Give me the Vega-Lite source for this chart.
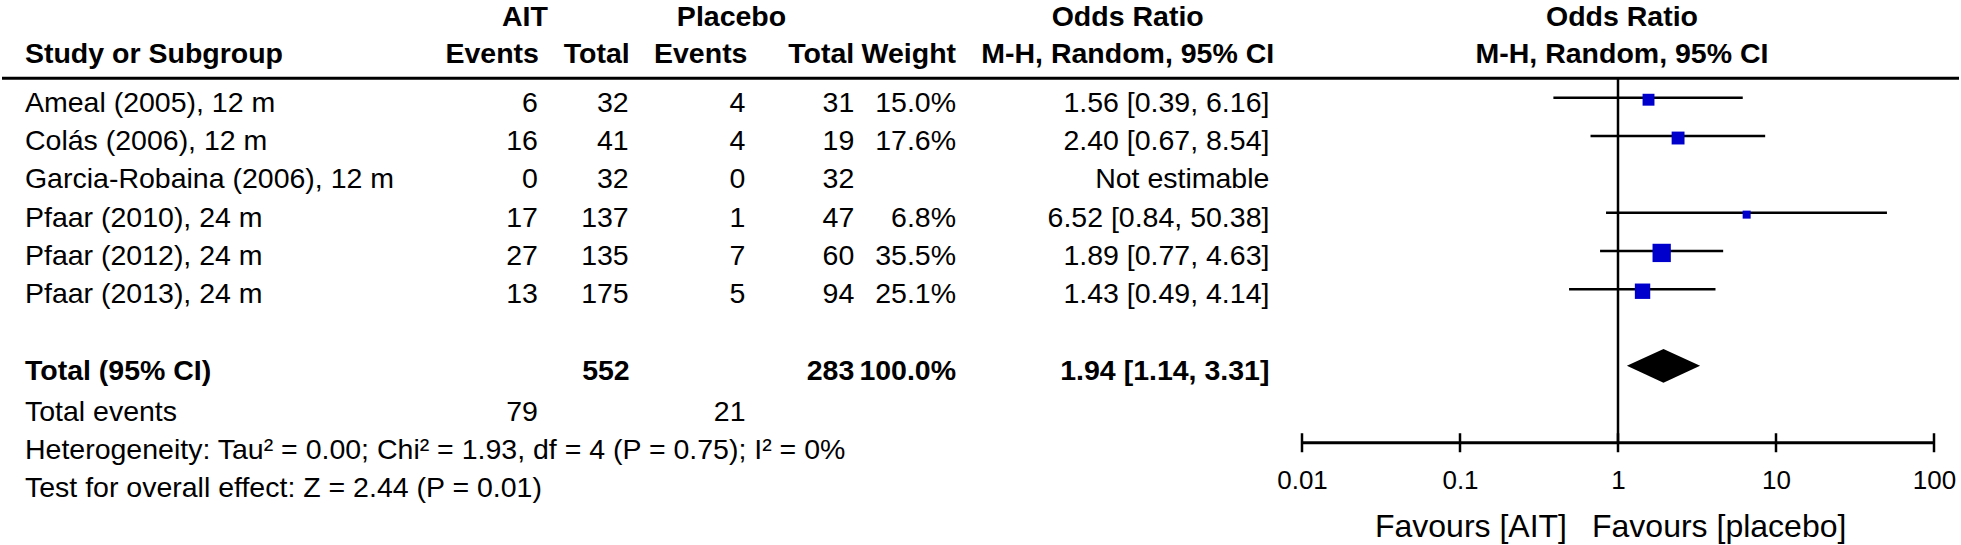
{
"$schema":"https://vega.github.io/schema/vega-lite/v6.json",
"width":1961,"height":545,
"autosize":{"type":"fit","contains":"padding"},
"padding":0,
"background":"white",
"config":{"view":{"stroke":null},"font":"Liberation Sans","text":{"fontSize":28.5,"baseline":"middle","color":"black"}},
"datasets":{
"studies":[
{"study":"Ameal (2005), 12 m","row":1,"ait_events":6,"ait_total":32,"pl_events":4,"pl_total":31,"weight":0.150,"or":1.56,"lo":0.39,"hi":6.16,"ci":"1.56 [0.39, 6.16]"},
{"study":"Colás (2006), 12 m","row":2,"ait_events":16,"ait_total":41,"pl_events":4,"pl_total":19,"weight":0.176,"or":2.40,"lo":0.67,"hi":8.54,"ci":"2.40 [0.67, 8.54]"},
{"study":"Garcia-Robaina (2006), 12 m","row":3,"ait_events":0,"ait_total":32,"pl_events":0,"pl_total":32,"weight":null,"or":null,"lo":null,"hi":null,"ci":"Not estimable"},
{"study":"Pfaar (2010), 24 m","row":4,"ait_events":17,"ait_total":137,"pl_events":1,"pl_total":47,"weight":0.068,"or":6.52,"lo":0.84,"hi":50.38,"ci":"6.52 [0.84, 50.38]"},
{"study":"Pfaar (2012), 24 m","row":5,"ait_events":27,"ait_total":135,"pl_events":7,"pl_total":60,"weight":0.355,"or":1.89,"lo":0.77,"hi":4.63,"ci":"1.89 [0.77, 4.63]"},
{"study":"Pfaar (2013), 24 m","row":6,"ait_events":13,"ait_total":175,"pl_events":5,"pl_total":94,"weight":0.251,"or":1.43,"lo":0.49,"hi":4.14,"ci":"1.43 [0.49, 4.14]"}
],
"headers":[
{"text":"AIT","row":-1.24,"col":"ait"},
{"text":"Placebo","row":-1.24,"col":"placebo"},
{"text":"Odds Ratio","row":-1.24,"col":"or_head"},
{"text":"Odds Ratio","row":-1.24,"col":"or_plot"},
{"text":"Study or Subgroup","row":-0.28,"col":"study"},
{"text":"Events","row":-0.28,"col":"ait_events"},
{"text":"Total","row":-0.28,"col":"ait_total"},
{"text":"Events","row":-0.28,"col":"pl_events"},
{"text":"Total","row":-0.28,"col":"pl_total"},
{"text":"Weight","row":-0.28,"col":"weight"},
{"text":"M-H, Random, 95% CI","row":-0.28,"col":"or_head"},
{"text":"M-H, Random, 95% CI","row":-0.28,"col":"or_plot"},
{"text":"Total (95% CI)","row":8,"col":"study"},
{"text":"552","row":8,"col":"ait_total"},
{"text":"283","row":8,"col":"pl_total"},
{"text":"100.0%","row":8,"col":"weight"},
{"text":"1.94 [1.14, 3.31]","row":8,"col":"or_value"}
],
"footer":[
{"text":"Total events","row":9.08,"col":"study"},
{"text":"79","row":9.08,"col":"ait_events"},
{"text":"21","row":9.08,"col":"pl_events"},
{"text":"Heterogeneity: Tau² = 0.00; Chi² = 1.93, df = 4 (P = 0.75); I² = 0%","row":10.08,"col":"study"},
{"text":"Test for overall effect: Z = 2.44 (P = 0.01)","row":11.05,"col":"study"}
],
"pooled":[{"or":1.94,"lo":1.14,"hi":3.31,"row":8}],
"ticks":[{"value":0.01},{"value":0.1},{"value":1},{"value":10},{"value":100}],
"favours":[{"text":"Favours [AIT]","side":"AIT"},{"text":"Favours [placebo]","side":"placebo"}]
},
"resolve":{"scale":{"x":"independent"}},
"layer":[
{"layer":[
{"data":{"values":[{}]},"mark":{"type":"rule","strokeWidth":3,"color":"black"},
 "encoding":{"y":{"datum":0.415,"type":"quantitative","scale":{"domain":[-1.63,12.6],"reverse":true,"nice":false,"zero":false},"axis":null}}},
{"data":{"name":"studies"},"mark":{"type":"text","align":"left","dy":2},
 "encoding":{"x":{"datum":23,"type":"quantitative","scale":{"domain":[0,1961],"nice":false,"zero":false},"axis":null},
 "y":{"field":"row","type":"quantitative","scale":{"domain":[-1.63,12.6],"reverse":true,"nice":false,"zero":false},"axis":null},
 "text":{"field":"study"}}},
{"data":{"name":"studies"},"mark":{"type":"text","align":"right","dy":2},
 "encoding":{"x":{"datum":537,"type":"quantitative","scale":{"domain":[0,1961],"nice":false,"zero":false},"axis":null},
 "y":{"field":"row","type":"quantitative","scale":{"domain":[-1.63,12.6],"reverse":true,"nice":false,"zero":false},"axis":null},
 "text":{"field":"ait_events"}}},
{"data":{"name":"studies"},"mark":{"type":"text","align":"right","dy":2},
 "encoding":{"x":{"datum":628,"type":"quantitative","scale":{"domain":[0,1961],"nice":false,"zero":false},"axis":null},
 "y":{"field":"row","type":"quantitative","scale":{"domain":[-1.63,12.6],"reverse":true,"nice":false,"zero":false},"axis":null},
 "text":{"field":"ait_total"}}},
{"data":{"name":"studies"},"mark":{"type":"text","align":"right","dy":2},
 "encoding":{"x":{"datum":745,"type":"quantitative","scale":{"domain":[0,1961],"nice":false,"zero":false},"axis":null},
 "y":{"field":"row","type":"quantitative","scale":{"domain":[-1.63,12.6],"reverse":true,"nice":false,"zero":false},"axis":null},
 "text":{"field":"pl_events"}}},
{"data":{"name":"studies"},"mark":{"type":"text","align":"right","dy":2},
 "encoding":{"x":{"datum":854,"type":"quantitative","scale":{"domain":[0,1961],"nice":false,"zero":false},"axis":null},
 "y":{"field":"row","type":"quantitative","scale":{"domain":[-1.63,12.6],"reverse":true,"nice":false,"zero":false},"axis":null},
 "text":{"field":"pl_total"}}},
{"data":{"name":"studies"},"transform":[{"filter":"isValid(datum.weight)"}],"mark":{"type":"text","align":"right","dy":2},
 "encoding":{"x":{"datum":956,"type":"quantitative","scale":{"domain":[0,1961],"nice":false,"zero":false},"axis":null},
 "y":{"field":"row","type":"quantitative","scale":{"domain":[-1.63,12.6],"reverse":true,"nice":false,"zero":false},"axis":null},
 "text":{"field":"weight","type":"quantitative","format":".1%"}}},
{"data":{"name":"studies"},"mark":{"type":"text","align":"right","dy":2},
 "encoding":{"x":{"datum":1270,"type":"quantitative","scale":{"domain":[0,1961],"nice":false,"zero":false},"axis":null},
 "y":{"field":"row","type":"quantitative","scale":{"domain":[-1.63,12.6],"reverse":true,"nice":false,"zero":false},"axis":null},
 "text":{"field":"ci"}}},
{"data":{"name":"footer"},"transform":[{"filter":"datum.col === 'study'"}],"mark":{"type":"text","align":"left","dy":2},
 "encoding":{"x":{"datum":23,"type":"quantitative","scale":{"domain":[0,1961],"nice":false,"zero":false},"axis":null},
 "y":{"field":"row","type":"quantitative","scale":{"domain":[-1.63,12.6],"reverse":true,"nice":false,"zero":false},"axis":null},
 "text":{"field":"text"}}},
{"data":{"name":"footer"},"transform":[{"filter":"datum.col === 'ait_events'"}],"mark":{"type":"text","align":"right","dy":2},
 "encoding":{"x":{"datum":537,"type":"quantitative","scale":{"domain":[0,1961],"nice":false,"zero":false},"axis":null},
 "y":{"field":"row","type":"quantitative","scale":{"domain":[-1.63,12.6],"reverse":true,"nice":false,"zero":false},"axis":null},
 "text":{"field":"text"}}},
{"data":{"name":"footer"},"transform":[{"filter":"datum.col === 'pl_events'"}],"mark":{"type":"text","align":"right","dy":2},
 "encoding":{"x":{"datum":745,"type":"quantitative","scale":{"domain":[0,1961],"nice":false,"zero":false},"axis":null},
 "y":{"field":"row","type":"quantitative","scale":{"domain":[-1.63,12.6],"reverse":true,"nice":false,"zero":false},"axis":null},
 "text":{"field":"text"}}},
{"data":{"name":"headers"},"transform":[{"filter":"datum.col === 'study'"}],"mark":{"type":"text","align":"left","fontWeight":"bold","dy":2},
 "encoding":{"x":{"datum":23,"type":"quantitative","scale":{"domain":[0,1961],"nice":false,"zero":false},"axis":null},
 "y":{"field":"row","type":"quantitative","scale":{"domain":[-1.63,12.6],"reverse":true,"nice":false,"zero":false},"axis":null},
 "text":{"field":"text"}}},
{"data":{"name":"headers"},"transform":[{"filter":"datum.col === 'ait'"}],"mark":{"type":"text","align":"center","fontWeight":"bold","dy":2},
 "encoding":{"x":{"datum":524,"type":"quantitative","scale":{"domain":[0,1961],"nice":false,"zero":false},"axis":null},
 "y":{"field":"row","type":"quantitative","scale":{"domain":[-1.63,12.6],"reverse":true,"nice":false,"zero":false},"axis":null},
 "text":{"field":"text"}}},
{"data":{"name":"headers"},"transform":[{"filter":"datum.col === 'placebo'"}],"mark":{"type":"text","align":"center","fontWeight":"bold","dy":2},
 "encoding":{"x":{"datum":731,"type":"quantitative","scale":{"domain":[0,1961],"nice":false,"zero":false},"axis":null},
 "y":{"field":"row","type":"quantitative","scale":{"domain":[-1.63,12.6],"reverse":true,"nice":false,"zero":false},"axis":null},
 "text":{"field":"text"}}},
{"data":{"name":"headers"},"transform":[{"filter":"datum.col === 'or_head'"}],"mark":{"type":"text","align":"center","fontWeight":"bold","dy":2},
 "encoding":{"x":{"datum":1128,"type":"quantitative","scale":{"domain":[0,1961],"nice":false,"zero":false},"axis":null},
 "y":{"field":"row","type":"quantitative","scale":{"domain":[-1.63,12.6],"reverse":true,"nice":false,"zero":false},"axis":null},
 "text":{"field":"text"}}},
{"data":{"name":"headers"},"transform":[{"filter":"datum.col === 'ait_events'"}],"mark":{"type":"text","align":"right","fontWeight":"bold","dy":2},
 "encoding":{"x":{"datum":538,"type":"quantitative","scale":{"domain":[0,1961],"nice":false,"zero":false},"axis":null},
 "y":{"field":"row","type":"quantitative","scale":{"domain":[-1.63,12.6],"reverse":true,"nice":false,"zero":false},"axis":null},
 "text":{"field":"text"}}},
{"data":{"name":"headers"},"transform":[{"filter":"datum.col === 'ait_total'"}],"mark":{"type":"text","align":"right","fontWeight":"bold","dy":2},
 "encoding":{"x":{"datum":629,"type":"quantitative","scale":{"domain":[0,1961],"nice":false,"zero":false},"axis":null},
 "y":{"field":"row","type":"quantitative","scale":{"domain":[-1.63,12.6],"reverse":true,"nice":false,"zero":false},"axis":null},
 "text":{"field":"text"}}},
{"data":{"name":"headers"},"transform":[{"filter":"datum.col === 'pl_events'"}],"mark":{"type":"text","align":"right","fontWeight":"bold","dy":2},
 "encoding":{"x":{"datum":747,"type":"quantitative","scale":{"domain":[0,1961],"nice":false,"zero":false},"axis":null},
 "y":{"field":"row","type":"quantitative","scale":{"domain":[-1.63,12.6],"reverse":true,"nice":false,"zero":false},"axis":null},
 "text":{"field":"text"}}},
{"data":{"name":"headers"},"transform":[{"filter":"datum.col === 'pl_total'"}],"mark":{"type":"text","align":"right","fontWeight":"bold","dy":2},
 "encoding":{"x":{"datum":854,"type":"quantitative","scale":{"domain":[0,1961],"nice":false,"zero":false},"axis":null},
 "y":{"field":"row","type":"quantitative","scale":{"domain":[-1.63,12.6],"reverse":true,"nice":false,"zero":false},"axis":null},
 "text":{"field":"text"}}},
{"data":{"name":"headers"},"transform":[{"filter":"datum.col === 'weight'"}],"mark":{"type":"text","align":"right","fontWeight":"bold","dy":2},
 "encoding":{"x":{"datum":956,"type":"quantitative","scale":{"domain":[0,1961],"nice":false,"zero":false},"axis":null},
 "y":{"field":"row","type":"quantitative","scale":{"domain":[-1.63,12.6],"reverse":true,"nice":false,"zero":false},"axis":null},
 "text":{"field":"text"}}},
{"data":{"name":"headers"},"transform":[{"filter":"datum.col === 'or_value'"}],"mark":{"type":"text","align":"right","fontWeight":"bold","dy":2},
 "encoding":{"x":{"datum":1270,"type":"quantitative","scale":{"domain":[0,1961],"nice":false,"zero":false},"axis":null},
 "y":{"field":"row","type":"quantitative","scale":{"domain":[-1.63,12.6],"reverse":true,"nice":false,"zero":false},"axis":null},
 "text":{"field":"text"}}}
]},
{"layer":[
{"data":{"values":[{}]},"mark":{"type":"rule","strokeWidth":2.5,"color":"black"},
 "encoding":{"x":{"datum":1,"type":"quantitative","scale":{"type":"log","domain":[0.01,100],"range":[1300,1932],"nice":false},
   "axis":{"orient":"bottom","values":[0.01,0.1,1,10,100],"format":"~g","title":null,"offset":-102.7,"labelPadding":25,"labelFlush":false,"ticks":false,"domainWidth":3,"domainColor":"black","labelFontSize":26,"labelColor":"black","grid":false}},
 "y":{"datum":0.415,"type":"quantitative","scale":{"domain":[-1.63,12.6],"reverse":true,"nice":false,"zero":false},"axis":null},
 "y2":{"datum":9.92}}},
{"data":{"name":"studies"},"transform":[{"filter":"isValid(datum.or)"}],"mark":{"type":"rule","strokeWidth":2.5,"color":"black","yOffset":-3},
 "encoding":{"x":{"field":"lo","type":"quantitative","scale":{"type":"log","domain":[0.01,100],"range":[1300,1932],"nice":false},
   "axis":{"orient":"bottom","values":[0.01,0.1,1,10,100],"format":"~g","title":null,"offset":-102.7,"labelPadding":25,"labelFlush":false,"ticks":false,"domainWidth":3,"domainColor":"black","labelFontSize":26,"labelColor":"black","grid":false}},
 "x2":{"field":"hi"},
 "y":{"field":"row","type":"quantitative","scale":{"domain":[-1.63,12.6],"reverse":true,"nice":false,"zero":false},"axis":null}}},
{"data":{"name":"studies"},"transform":[{"filter":"isValid(datum.or)"}],"mark":{"type":"point","shape":"square","filled":true,"opacity":1,"color":"#0000CC","yOffset":-1},
 "encoding":{"x":{"field":"or","type":"quantitative","scale":{"type":"log","domain":[0.01,100],"range":[1300,1932],"nice":false},
   "axis":{"orient":"bottom","values":[0.01,0.1,1,10,100],"format":"~g","title":null,"offset":-102.7,"labelPadding":25,"labelFlush":false,"ticks":false,"domainWidth":3,"domainColor":"black","labelFontSize":26,"labelColor":"black","grid":false}},
 "y":{"field":"row","type":"quantitative","scale":{"domain":[-1.63,12.6],"reverse":true,"nice":false,"zero":false},"axis":null},
 "size":{"field":"weight","type":"quantitative","scale":{"domain":[0,0.355],"range":[0,335]},"legend":null}}},
{"data":{"name":"pooled"},"mark":{"type":"point","shape":"M-1,0L0,-0.46L1,0L0,0.46Z","size":5358,"filled":true,"opacity":1,"color":"black","yOffset":-3},
 "encoding":{"x":{"field":"or","type":"quantitative","scale":{"type":"log","domain":[0.01,100],"range":[1300,1932],"nice":false},
   "axis":{"orient":"bottom","values":[0.01,0.1,1,10,100],"format":"~g","title":null,"offset":-102.7,"labelPadding":25,"labelFlush":false,"ticks":false,"domainWidth":3,"domainColor":"black","labelFontSize":26,"labelColor":"black","grid":false}},
 "y":{"field":"row","type":"quantitative","scale":{"domain":[-1.63,12.6],"reverse":true,"nice":false,"zero":false},"axis":null}}},
{"data":{"name":"ticks"},"mark":{"type":"tick","orient":"vertical","size":19,"thickness":2.5,"color":"black","opacity":1},
 "encoding":{"x":{"field":"value","type":"quantitative","scale":{"type":"log","domain":[0.01,100],"range":[1300,1932],"nice":false},
   "axis":{"orient":"bottom","values":[0.01,0.1,1,10,100],"format":"~g","title":null,"offset":-102.7,"labelPadding":25,"labelFlush":false,"ticks":false,"domainWidth":3,"domainColor":"black","labelFontSize":26,"labelColor":"black","grid":false}},
 "y":{"datum":9.93,"type":"quantitative","scale":{"domain":[-1.63,12.6],"reverse":true,"nice":false,"zero":false},"axis":null}}},
{"data":{"name":"favours"},"transform":[{"filter":"datum.side === 'AIT'"}],"mark":{"type":"text","align":"right","fontSize":32,"dx":-51,"dy":1.5},
 "encoding":{"x":{"datum":1,"type":"quantitative","scale":{"type":"log","domain":[0.01,100],"range":[1300,1932],"nice":false},
   "axis":{"orient":"bottom","values":[0.01,0.1,1,10,100],"format":"~g","title":null,"offset":-102.7,"labelPadding":25,"labelFlush":false,"ticks":false,"domainWidth":3,"domainColor":"black","labelFontSize":26,"labelColor":"black","grid":false}},
 "y":{"datum":12.1,"type":"quantitative","scale":{"domain":[-1.63,12.6],"reverse":true,"nice":false,"zero":false},"axis":null},
 "text":{"field":"text"}}},
{"data":{"name":"favours"},"transform":[{"filter":"datum.side === 'placebo'"}],"mark":{"type":"text","align":"left","fontSize":32,"dx":-26,"dy":1.5},
 "encoding":{"x":{"datum":1,"type":"quantitative","scale":{"type":"log","domain":[0.01,100],"range":[1300,1932],"nice":false},
   "axis":{"orient":"bottom","values":[0.01,0.1,1,10,100],"format":"~g","title":null,"offset":-102.7,"labelPadding":25,"labelFlush":false,"ticks":false,"domainWidth":3,"domainColor":"black","labelFontSize":26,"labelColor":"black","grid":false}},
 "y":{"datum":12.1,"type":"quantitative","scale":{"domain":[-1.63,12.6],"reverse":true,"nice":false,"zero":false},"axis":null},
 "text":{"field":"text"}}},
{"data":{"name":"headers"},"transform":[{"filter":"datum.col === 'or_plot'"}],"mark":{"type":"text","align":"center","fontWeight":"bold","dx":4,"dy":2},
 "encoding":{"x":{"datum":1,"type":"quantitative","scale":{"type":"log","domain":[0.01,100],"range":[1300,1932],"nice":false},
   "axis":{"orient":"bottom","values":[0.01,0.1,1,10,100],"format":"~g","title":null,"offset":-102.7,"labelPadding":25,"labelFlush":false,"ticks":false,"domainWidth":3,"domainColor":"black","labelFontSize":26,"labelColor":"black","grid":false}},
 "y":{"field":"row","type":"quantitative","scale":{"domain":[-1.63,12.6],"reverse":true,"nice":false,"zero":false},"axis":null},
 "text":{"field":"text"}}}
]}
]
}
